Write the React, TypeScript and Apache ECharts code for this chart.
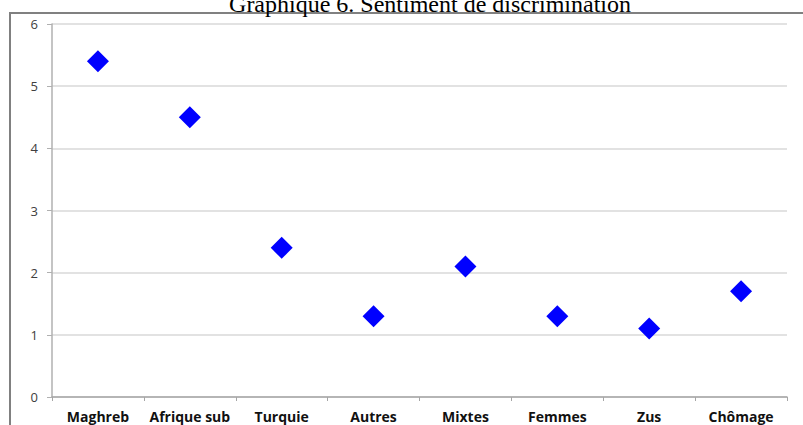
import React, { useEffect, useRef } from "react";
import * as echarts from "echarts";

const categories = ["Maghreb", "Afrique sub", "Turquie", "Autres", "Mixtes", "Femmes", "Zus", "Chômage"];
const values = [5.4, 4.5, 2.4, 1.3, 2.1, 1.3, 1.1, 1.7];
const titleText = "Graphique 6. Sentiment de discrimination";

export default function App() {
  const ref = useRef<HTMLDivElement>(null);
  useEffect(() => {
    document.body.style.margin = "0";
    const chart = echarts.init(ref.current!, null, { renderer: "svg" });
    chart.setOption({
      animation: false,
      backgroundColor: "#ffffff",
      grid: { left: 52, right: 16, top: 24, bottom: 28 },
      graphic: [
        {
          type: "rect",
          z: -1,
          shape: { x: 10, y: 13, width: 900, height: 500 },
          style: { fill: "none", stroke: "#808080", lineWidth: 2 },
        },
        {
          type: "text",
          x: 430,
          y: 16,
          style: {
            text: titleText,
            fontFamily: "Liberation Serif",
            fontSize: 24,
            fill: "#000",
            align: "center",
            verticalAlign: "bottom",
          },
        },
      ],
      xAxis: {
        type: "category",
        data: categories,
        boundaryGap: true,
        axisLine: { lineStyle: { color: "#a6a6a6", width: 1.5 } },
        axisTick: { show: true, length: 4, alignWithLabel: false, lineStyle: { color: "#a6a6a6" } },
        axisLabel: {
          color: "#111",
          fontFamily: "Open Sans",
          fontWeight: "bold",
          fontSize: 14,
          margin: 12,
          interval: 0,
        },
        splitLine: { show: false },
      },
      yAxis: {
        type: "value",
        min: 0,
        max: 6,
        interval: 1,
        axisLine: { show: true, lineStyle: { color: "#b0b0b0", width: 1.5 } },
        axisTick: { show: true, length: 5, lineStyle: { color: "#b0b0b0" } },
        axisLabel: { color: "#404040", fontFamily: "Open Sans", fontSize: 13, margin: 14 },
        splitLine: { show: true, lineStyle: { color: "#d9d9d9", width: 1.5 } },
      },
      series: [
        {
          type: "scatter",
          data: values,
          symbol: "diamond",
          symbolSize: 22,
          itemStyle: { color: "#0000ff", opacity: 1 },
        },
      ],
    });
    return () => chart.dispose();
  }, []);
  return <div ref={ref} style={{ position: "fixed", left: 0, top: 0, width: 803, height: 425 }} />;
}
